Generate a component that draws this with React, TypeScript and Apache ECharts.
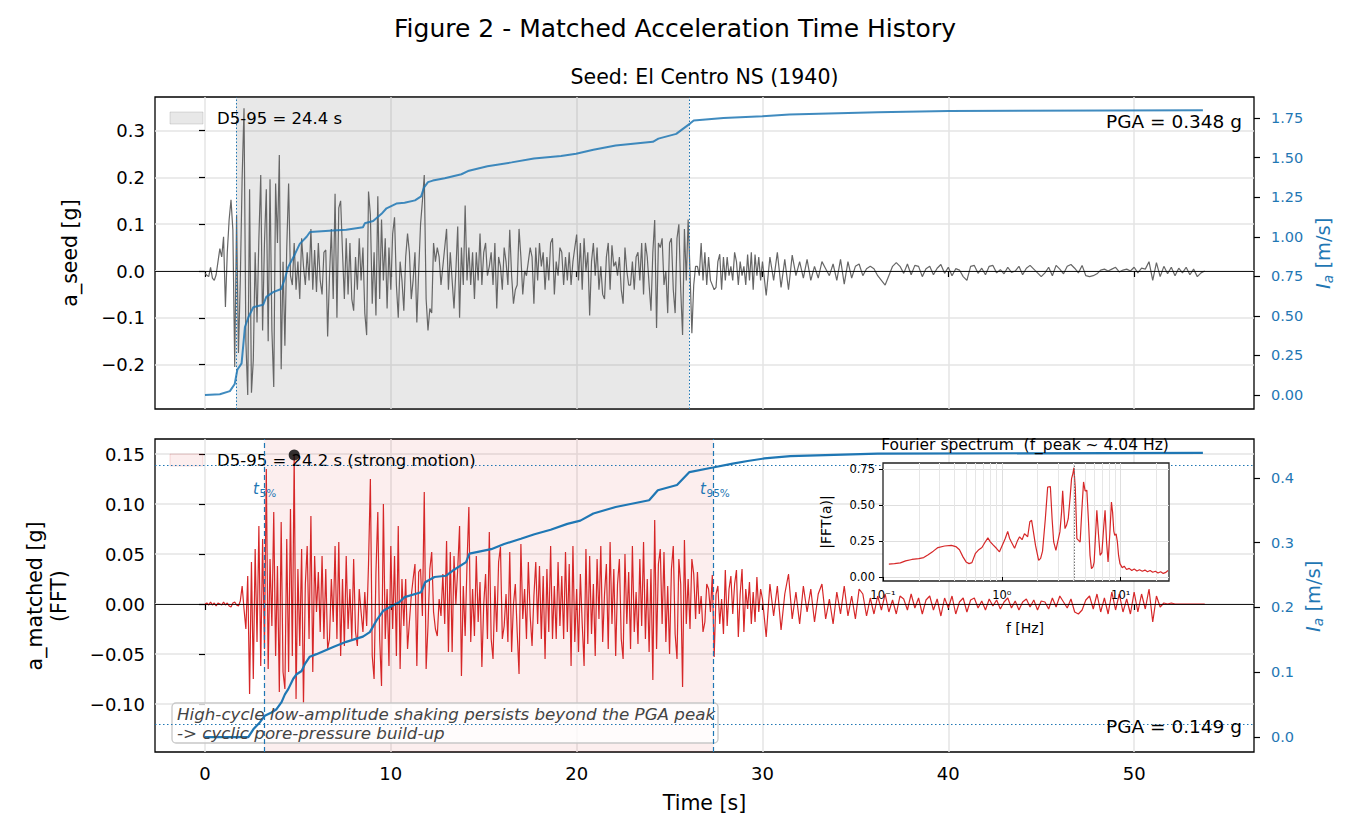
import React, { useEffect, useRef } from "react";
import * as echarts from "echarts";

const FONT = "DejaVu Sans";
const BLUE = "#1f77b4";
const RED = "#d62728";

// ---- time axis ----
const X_MIN = -2.69;
const X_MAX = 56.45;
const X_TICKS = [0, 10, 20, 30, 40, 50];

// sampling of the digitised records
const STRONG_DT = 0.1; // s, samples at 0.0 .. 29.9 s
const TAIL_T0 = 30.0;
const TAIL_DT = 0.2; // s, samples at 30.0 .. 53.8 s

// seed record (El Centro NS), milli-g
const seedStrongMilliG = [
  -5, -9, -12, 8, -15, -20, -8, 20, 48, 30,
  73, -77, 40, 110, 152, 88, -205, 120, -175, -20,
  200, 348, -150, -265, 175, -260, -190, 40, -110, 70,
  205, -127, 60, 175, -150, 196, -126, -248, 187, 60,
  248, -210, 20, -160, 50, 187, -10, -30, 60, -40,
  20, -60, 70, 10, -30, 40, -20, 90, -40, 45,
  -45, 60, -20, -50, 40, 45, -140, -10, 90, -60,
  165, -100, 135, 150, 40, -60, 70, -50, 60, -60,
  -85, 30, -40, 70, -20, 50, -90, -137, 170, 120,
  -70, 40, -95, 160, -60, 110, -20, 70, -80, 50,
  -40, 80, 115, -30, -100, 20, -20, -85, 30, 80,
  40, -60, -20, 40, -110, 0, 100, 150, 205, -60,
  -127, -80, -90, 60, 20, 50, 30, -30, 10, 50,
  90, -40, 40, -20, -80, 0, 95, -100, 50, -30,
  140, -20, 50, -30, 40, -60, 40, -20, 80, -30,
  40, 60, -10, 10, 40, -30, 60, -80, 30, 10,
  -40, 50, 20, -30, 88, -10, -70, -40, -30, 90,
  30, -50, 0, -10, 20, 50, 30, -70, 50, -20,
  60, 10, 40, -40, 30, -20, 60, 70, -50, 20,
  -10, 50, 40, -30, 30, -20, 40, -30, 20, 50,
  78, -20, 60, -40, 70, 0, 40, -95, 20, 60,
  -10, 50, -40, 10, -50, -60, 30, 60, -40, 55,
  10, 20, -10, 30, -40, -70, 50, 0, -30, -30,
  20, -40, 30, 40, -20, 60, -50, 60, 30, -30,
  -85, 40, 109, -122, 60, 50, 70, -30, 0, -90,
  60, 70, -40, -90, 70, 100, -40, -137, 90, -20,
  110, 0, -133, -30, 10, 10, -10, 60, -20, 40,
  -30, 30, -20, -30, -40, -35, 20, 36, -40, 30,
  -20, 30, -10, 10, -20, 40, 20, -30, 20, -10,
  10, -30, 35, -20, 40, -40, 35, -10, 30, -20,
];
const seedTailMilliG = [
  20, -52, 30, -20, 40, -35, 25, -40, 34, -10,
  20, -15, 25, -20, 10, -15, 20, 5, -10, 15,
  -20, 25, -28, 20, -15, 10, 15, -10, 5, 10,
  5, -10, -20, -30, -10, 10, 18, 10, -5, 15,
  -8, 12, 10, -12, 5, 10, -8, 6, 14, -5,
  8, -10, 5, 2, -12, -20, 10, 12, -5, 6,
  -8, 10, 12, -4, 3, -6, 8, -3, 0, 10,
  -8, 6, 12, 4, -4, -12, -4, 8, -10, 12,
  4, -6, 10, 14, 6, -4, 12, -10, -12, -10,
  -6, 2, 4, 0, 4, 8, -2, 2, 4, 0,
  8, -4, 6, 4, 20, -20, 18, -12, 10, -6,
  8, -10, 6, -4, 8, -8, 4, -12, -4, 0,
];

// spectrum-matched record, milli-g
const matchedStrongMilliG = [
  0, 1, -1, 2, -1, 1, -2, 1, 0, -1,
  2, -1, 1, -2, -3, 1, 2, -1, -2, 3,
  18, -5, -25, 28, -90, 42, -75, 55, -38, 78,
  -62, 65, -45, 135, -65, 45, -22, 92, -52, 38,
  -88, 82, -68, -85, 65, -68, 95, -52, 149, -95,
  35, -42, 55, -100, 20, 58, -35, 88, -68, 48,
  -8, 32, -28, 48, -35, 35, -45, -35, 25, -18,
  58, -35, 62, -52, 25, -42, 48, -25, 15, -35,
  45, -28, -42, 15, -8, -28, 12, -22, 40, 125,
  -52, -75, 32, 92, -35, -82, 100, -35, 15, -62,
  58, -25, 48, -52, 78, -65, 25, -22, 25, -45,
  -18, 8, 25, 40, -62, 32, 35, -12, 112, -65,
  -22, 35, 52, -8, -25, -32, 5, -12, 30, -20,
  63, -48, 52, -48, 48, 0, 35, 78, -72, 18,
  -32, 40, 97, -38, 15, -32, 48, -18, 22, -63,
  0, 30, -35, 72, -35, -55, 18, -28, 42, 57,
  -35, -22, 10, -38, 52, -48, 0, 20, -28, -70,
  60, -15, 15, -35, 42, -12, -42, 8, 42, -20,
  38, -35, 28, -55, 35, -28, 58, -35, 18, -35,
  42, -22, 28, -35, 52, -28, 40, -62, 58, -38,
  15, -48, 30, -20, -62, 55, -40, 48, -30, 20,
  -52, 45, -15, 58, -38, 10, 40, -45, 62, -20,
  35, -52, 20, 45, -35, -55, 50, -20, 32, -45,
  58, -28, 12, -40, 45, -22, 62, -35, 25, -48,
  35, -76, 84, -45, 40, 55, -20, 52, -38, 18,
  -50, 35, 58, -30, -55, 45, 20, -83, 64, -20,
  25, -25, 45, 30, -15, 32, -10, 8, -28, -18,
  20, 15, -8, 29, -53, 10, 18, -20, 5, -30,
  34, -22, 15, 28, -10, 20, 34, -33, 10, 35,
  -28, 15, -5, 22, -20, 12, -18, 27, -8, 15,
];
const matchedTailMilliG = [
  5, -33, 20, -12, 18, -26, 10, 30, -15, 12,
  -20, 18, -8, 15, -18, 10, 20, -15, 5, -20,
  12, -10, 18, -12, 8, -15, 15, 10, -12, 6,
  -10, 8, -6, 10, -8, 4, -10, 8, 5, -6,
  10, -4, 6, -10, 4, 8, -6, 5, -12, 6,
  -4, 8, -10, 2, 6, -8, 4, 6, -4, 3,
  -6, 5, -2, 4, -5, 2, 6, -4, 3, -6,
  2, 5, -3, 4, -6, 3, 2, -5, 6, -3,
  8, 2, -4, 5, -8, -10, -6, 4, 8, -5,
  10, -8, 6, -10, 12, -6, 10, -8, 5, -10,
  12, -8, 10, -5, 15, -18, 8, -3, 1, 0,
  1, 0, 0, 0, 0, 0, 0, 0, 0, 0,
];

// Arias intensity (m/s)
const seedAriasTime = [
  0, 0.8, 1.34, 1.6, 1.74, 1.97, 2.15, 2.33, 2.6, 3.13,
  3.3, 3.67, 4.1, 4.3, 4.48, 4.84, 5.1, 5.47, 5.65, 6.9,
  7.6, 8.5, 8.6, 9.05, 9.5, 9.77, 10.3, 10.74, 11.3, 11.63,
  11.78, 12.0, 12.26, 12.9, 13.8, 14.15, 15.2, 16.5, 17.7, 19.16,
  19.97, 20.9, 22.1, 24.1, 24.4, 25.36, 25.7, 26.1, 26.3, 27.9,
  30.0, 31.45, 36.2, 40.0, 53.7,
];
const seedAriasValue = [
  0.0, 0.005, 0.025, 0.07, 0.16, 0.2, 0.43, 0.49, 0.555, 0.57,
  0.62, 0.65, 0.67, 0.735, 0.81, 0.89, 0.955, 1.0, 1.03, 1.04,
  1.045, 1.06, 1.085, 1.1, 1.145, 1.18, 1.21, 1.215, 1.23, 1.255,
  1.31, 1.345, 1.355, 1.37, 1.395, 1.415, 1.445, 1.47, 1.495, 1.51,
  1.525, 1.55, 1.577, 1.6, 1.62, 1.65, 1.68, 1.715, 1.735, 1.75,
  1.762, 1.773, 1.786, 1.794, 1.8,
];
const matchedAriasTime = [
  0, 2.33, 2.6, 2.96, 3.22, 3.58, 3.85, 4.12, 4.3, 4.48,
  4.75, 4.93, 5.2, 5.38, 5.64, 6.0, 6.9, 7.6, 8.5, 8.87,
  9.23, 9.6, 10.1, 10.45, 10.74, 11.63, 11.85, 12.35, 12.98, 13.34,
  14.05, 14.23, 15.4, 16.1, 17.0, 17.73, 18.6, 19.5, 20.2, 20.9,
  22.1, 23.9, 24.37, 25.4, 26.07, 27.33, 28.4, 29.2, 30.1, 31.5,
  36.2, 53.7,
];
const matchedAriasValue = [
  0, 0.0, 0.012, 0.023, 0.033, 0.038, 0.043, 0.054, 0.066, 0.074,
  0.09, 0.097, 0.102, 0.113, 0.124, 0.128, 0.139, 0.147, 0.155, 0.162,
  0.18, 0.195, 0.203, 0.208, 0.216, 0.2235, 0.239, 0.247, 0.249, 0.257,
  0.27, 0.283, 0.29, 0.298, 0.306, 0.313, 0.32, 0.329, 0.334, 0.345,
  0.355, 0.3655, 0.381, 0.389, 0.409, 0.416, 0.422, 0.426, 0.43, 0.4335,
  0.4375, 0.4386,
];

// Fourier amplitude of the matched record
const fftFreqHz = [
  0.112, 0.125, 0.14, 0.155, 0.175, 0.2, 0.22, 0.24, 0.265, 0.29,
  0.33, 0.376, 0.41, 0.44, 0.471, 0.5, 0.53, 0.56, 0.6, 0.64,
  0.68, 0.72, 0.763, 0.8, 0.84, 0.9, 0.955, 1.02, 1.07, 1.12,
  1.16, 1.2, 1.28, 1.35, 1.41, 1.48, 1.55, 1.65, 1.72, 1.78,
  1.84, 1.92, 2.04, 2.12, 2.2, 2.32, 2.43, 2.56, 2.65, 2.73,
  2.85, 2.98, 3.08, 3.18, 3.25, 3.33, 3.4, 3.5, 3.62, 3.75,
  3.86, 3.96, 4.04, 4.15, 4.28, 4.42, 4.56, 4.7, 4.87, 5.02,
  5.19, 5.35, 5.52, 5.68, 5.85, 5.98, 6.15, 6.3, 6.5, 6.71,
  6.95, 7.2, 7.39, 7.6, 7.83, 8.1, 8.36, 8.55, 8.75, 8.91,
  9.15, 9.38, 9.6, 9.86, 10.3, 10.7, 11.2, 11.8, 12.4, 13.0,
  13.7, 14.4, 15.2, 16.0, 16.8, 17.7, 18.6, 19.6, 20.6, 21.7,
  22.8, 24.0, 25.0,
];
const fftAmp = [
  0.09, 0.093, 0.098, 0.112, 0.122, 0.128, 0.135, 0.155, 0.18, 0.205,
  0.216, 0.22, 0.212, 0.19, 0.14, 0.105, 0.093, 0.1, 0.165, 0.19,
  0.205, 0.24, 0.272, 0.245, 0.225, 0.2, 0.175, 0.23, 0.27, 0.318,
  0.27, 0.245, 0.2, 0.25, 0.28, 0.26, 0.302, 0.28, 0.385, 0.395,
  0.32, 0.22, 0.116, 0.13, 0.18, 0.4, 0.627, 0.63, 0.4, 0.244,
  0.186, 0.26, 0.314, 0.45, 0.6, 0.45, 0.337, 0.36, 0.406, 0.55,
  0.685, 0.72, 0.76, 0.62, 0.267, 0.255, 0.244, 0.45, 0.662, 0.6,
  0.604, 0.4, 0.15, 0.058, 0.07, 0.104, 0.3, 0.464, 0.3, 0.151,
  0.17, 0.35, 0.464, 0.25, 0.104, 0.3, 0.522, 0.45, 0.32, 0.29,
  0.3, 0.244, 0.15, 0.093, 0.065, 0.075, 0.052, 0.06, 0.045, 0.055,
  0.042, 0.05, 0.04, 0.048, 0.036, 0.045, 0.033, 0.04, 0.028, 0.036,
  0.025, 0.032, 0.045,
];

// summary values
const SEED_T5 = 1.67;
const SEED_T95 = 26.07;
const SEED_D595 = 24.4;
const SEED_PGA = 0.348;
const MATCH_T5 = 3.17;
const MATCH_T95 = 27.37;
const MATCH_D595 = 24.2;
const MATCH_PGA = 0.149;
const MATCH_PGA_T = 4.8;
const MATCH_IA5 = 0.0219;
const MATCH_IA95 = 0.4167;
const F_PEAK = 4.04;

// tick labels
const seedTicks = [-0.2, -0.1, 0, 0.1, 0.2, 0.3];
const seedAriasTicks = [0, 0.25, 0.5, 0.75, 1.0, 1.25, 1.5, 1.75];
const matchedTicks = [-0.1, -0.05, 0, 0.05, 0.1, 0.15];
const matchedAriasTicks = [0, 0.1, 0.2, 0.3, 0.4];
const fftTicks = [0, 0.25, 0.5, 0.75];
const fftMinorGrid = [0.2, 0.3, 0.4, 0.5, 0.6, 0.7, 0.8, 0.9, 2, 3, 4, 5, 6, 7, 8, 9, 20];

function timeHistory(strong: number[], tail: number[]): number[][] {
  const out: number[][] = [];
  strong.forEach((v, i) => out.push([+(i * STRONG_DT).toFixed(2), v / 1000]));
  tail.forEach((v, i) => out.push([+(TAIL_T0 + i * TAIL_DT).toFixed(2), v / 1000]));
  return out;
}
function pairs(xs: number[], ys: number[]): number[][] {
  const n = Math.min(xs.length, ys.length);
  const out: number[][] = [];
  for (let i = 0; i < n; i++) out.push([xs[i], ys[i]]);
  return out;
}
const fmt = (d: number) => (v: number) => (v < -1e-9 ? "\u2212" : "") + Math.abs(v).toFixed(d);
const supMap: Record<string, string> = { "-": "\u207b", "0": "\u2070", "1": "\u00b9", "2": "\u00b2", "3": "\u00b3" };
const logFmt = (v: number) => {
  const e = Math.log10(v);
  const r = Math.round(e);
  if (Math.abs(e - r) > 1e-6) return "";
  return "10" + String(r).split("").map((c) => supMap[c] || c).join("");
};

const GRID_LINE = { show: true, lineStyle: { color: "#e4e4e4", width: 1.5 } };
const TICK = (vals: number[] | null, len = 6, color = "#000") => ({
  show: true,
  length: len,
  ...(vals ? { customValues: vals } : {}),
  lineStyle: { color, width: 1.2 },
});

function text(x: number, y: number, t: string, size: number, extra: any = {}, z = 10) {
  const align = extra.align || "center";
  return {
    type: "text",
    x,
    y,
    z,
    style: {
      text: t,
      fontSize: size,
      fontFamily: FONT,
      fill: "#000",
      align,
      textAlign: align,
      verticalAlign: "middle",
      textVerticalAlign: "middle",
      ...extra,
    },
  };
}

function buildOption(): any {
  const seedData = timeHistory(seedStrongMilliG, seedTailMilliG);
  const matchedData = timeHistory(matchedStrongMilliG, matchedTailMilliG);
  const seedArias = pairs(seedAriasTime, seedAriasValue);
  const matchedArias = pairs(matchedAriasTime, matchedAriasValue);
  const fftData = pairs(fftFreqHz, fftAmp);
  const noLabel = { show: false };

  const blueI = (x: number, y: number) => ({
    type: "group",
    x,
    y,
    rotation: Math.PI / 2,
    children: [
      { type: "text", x: -36, y: 0, z: 10, style: { text: "I", fontSize: 19.5, fontStyle: "italic", fontFamily: FONT, fill: BLUE, align: "left", textAlign: "left", verticalAlign: "middle", textVerticalAlign: "middle" } },
      { type: "text", x: -30.2, y: 5, z: 10, style: { text: "a", fontSize: 13.6, fontStyle: "italic", fontFamily: FONT, fill: BLUE, align: "left", textAlign: "left", verticalAlign: "middle", textVerticalAlign: "middle" } },
      { type: "text", x: -21.8, y: 0, z: 10, style: { text: " [m/s]", fontSize: 19.5, fontFamily: FONT, fill: BLUE, align: "left", textAlign: "left", verticalAlign: "middle", textVerticalAlign: "middle" } },
    ],
  });

  return {
    animation: false,
    backgroundColor: "#ffffff",
    textStyle: { fontFamily: FONT },
    grid: [
      { left: 155, top: 97, width: 1099, height: 312, show: true, borderColor: "#000", borderWidth: 1.3, backgroundColor: "transparent" },
      { left: 155, top: 439, width: 1099, height: 313, show: true, borderColor: "#000", borderWidth: 1.3, backgroundColor: "transparent" },
      { left: 883, top: 463, width: 286, height: 118, show: true, borderColor: "#222", borderWidth: 1.3, backgroundColor: "#ffffff", z: 6 },
    ],
    xAxis: [
      {
        gridIndex: 0, type: "value", min: X_MIN, max: X_MAX,
        axisLine: { show: false },
        axisTick: TICK(X_TICKS),
        axisLabel: { show: false, customValues: X_TICKS },
        splitLine: GRID_LINE,
      },
      {
        gridIndex: 1, type: "value", min: X_MIN, max: X_MAX,
        axisLine: { show: false },
        axisTick: TICK(X_TICKS),
        axisLabel: { show: true, customValues: X_TICKS, fontSize: 18, fontFamily: FONT, color: "#000", margin: 12 },
        splitLine: GRID_LINE,
      },
      {
        gridIndex: 2, type: "log", logBase: 10, min: 0.1, max: 25.5, z: 7,
        axisLine: { show: false },
        axisTick: { show: true, length: 4, lineStyle: { color: "#000", width: 1 } },
        axisLabel: { show: true, formatter: logFmt, fontSize: 11.5, fontFamily: FONT, color: "#000", margin: 8, showMaxLabel: false },
        splitLine: { show: true, showMinLine: false, showMaxLine: false, lineStyle: { color: "#dedede", width: 1 } },
      },
    ],
    yAxis: [
      {
        gridIndex: 0, type: "value", position: "left", min: -0.295, max: 0.372,
        axisLine: { show: false },
        axisTick: TICK(seedTicks),
        axisLabel: { customValues: seedTicks, formatter: fmt(1), fontSize: 18, fontFamily: FONT, color: "#000", margin: 10 },
        splitLine: GRID_LINE,
      },
      {
        gridIndex: 0, type: "value", position: "right", min: -0.088, max: 1.883,
        axisLine: { show: false },
        axisTick: TICK(seedAriasTicks),
        axisLabel: { customValues: seedAriasTicks, formatter: fmt(2), fontSize: 14.5, fontFamily: FONT, color: BLUE, margin: 17 },
        splitLine: { show: false },
      },
      {
        gridIndex: 1, type: "value", position: "left", min: -0.148, max: 0.165,
        axisLine: { show: false },
        axisTick: TICK(matchedTicks),
        axisLabel: { customValues: matchedTicks, formatter: fmt(2), fontSize: 18, fontFamily: FONT, color: "#000", margin: 10 },
        splitLine: GRID_LINE,
      },
      {
        gridIndex: 1, type: "value", position: "right", min: -0.023, max: 0.46,
        axisLine: { show: false },
        axisTick: TICK(matchedAriasTicks),
        axisLabel: { customValues: matchedAriasTicks, formatter: fmt(1), fontSize: 14.5, fontFamily: FONT, color: BLUE, margin: 17 },
        splitLine: { show: false },
      },
      {
        gridIndex: 2, type: "value", position: "left", min: -0.028, max: 0.794, z: 7,
        axisLine: { show: false },
        axisTick: { show: true, length: 4, customValues: fftTicks, lineStyle: { color: "#000", width: 1 } },
        axisLabel: { customValues: fftTicks, formatter: fmt(2), fontSize: 11.5, fontFamily: FONT, color: "#000", margin: 8 },
        splitLine: { show: true, lineStyle: { color: "#dedede", width: 1 } },
      },
    ],
    series: [
      {
        name: "seed", type: "line", xAxisIndex: 0, yAxisIndex: 0, data: seedData,
        showSymbol: false, symbol: "none", z: 2,
        lineStyle: { color: "#666666", width: 1.2 },
        markArea: { silent: true, itemStyle: { color: "rgba(128,128,128,0.18)" }, data: [[{ xAxis: SEED_T5 }, { xAxis: SEED_T95 }]] },
        markLine: {
          silent: true, symbol: ["none", "none"], label: noLabel,
          data: [
            { yAxis: 0, lineStyle: { color: "#000", width: 0.9, type: "solid" } },
            { xAxis: SEED_T5, lineStyle: { color: BLUE, width: 1, type: [1.5, 2] } },
            { xAxis: SEED_T95, lineStyle: { color: BLUE, width: 1, type: [1.5, 2] } },
          ],
        },
      },
      {
        name: "seedArias", type: "line", xAxisIndex: 0, yAxisIndex: 1, data: seedArias,
        showSymbol: false, symbol: "none", z: 4,
        lineStyle: { color: "rgba(31,119,180,0.85)", width: 2 },
      },
      {
        name: "matched", type: "line", xAxisIndex: 1, yAxisIndex: 2, data: matchedData,
        showSymbol: false, symbol: "none", z: 2,
        lineStyle: { color: RED, width: 1.2 },
        markArea: { silent: true, itemStyle: { color: "rgba(214,39,40,0.08)" }, data: [[{ xAxis: MATCH_T5 }, { xAxis: MATCH_T95 }]] },
        markLine: {
          silent: true, symbol: ["none", "none"], label: noLabel,
          data: [
            { yAxis: 0, lineStyle: { color: "#000", width: 0.9, type: "solid" } },
            { xAxis: MATCH_T5, lineStyle: { color: BLUE, width: 1.2, type: [5, 3] } },
            { xAxis: MATCH_T95, lineStyle: { color: BLUE, width: 1.2, type: [5, 3] } },
          ],
        },
      },
      {
        name: "pga", type: "scatter", xAxisIndex: 1, yAxisIndex: 2,
        data: [[MATCH_PGA_T, MATCH_PGA]], symbolSize: 11, z: 6,
        itemStyle: { color: "#000" },
      },
      {
        name: "matchedArias", type: "line", xAxisIndex: 1, yAxisIndex: 3, data: matchedArias,
        showSymbol: false, symbol: "none", z: 4,
        lineStyle: { color: BLUE, width: 2.2 },
        markLine: {
          silent: true, symbol: ["none", "none"], label: noLabel,
          lineStyle: { color: BLUE, width: 1, type: [1.5, 2.5] },
          data: [{ yAxis: MATCH_IA5 }, { yAxis: MATCH_IA95 }],
        },
      },
      {
        name: "fftGrid", type: "line", xAxisIndex: 2, yAxisIndex: 4, data: fftData,
        showSymbol: false, symbol: "none", z: 7,
        lineStyle: { opacity: 0 },
        markLine: {
          z: 7, silent: true, symbol: ["none", "none"], label: noLabel,
          lineStyle: { color: "#e6e6e6", width: 1, type: "solid" },
          data: fftMinorGrid.map((f) => ({ xAxis: f })),
        },
      },
      {
        name: "fft", type: "line", xAxisIndex: 2, yAxisIndex: 4, data: fftData,
        showSymbol: false, symbol: "none", z: 8,
        lineStyle: { color: RED, width: 1.2 },
        markLine: {
          z: 9, silent: true, symbol: ["none", "none"], label: noLabel,
          data: [{ xAxis: F_PEAK, lineStyle: { color: "#777", width: 1, type: [1.5, 1.5] } }],
        },
      },
    ],
    graphic: {
      elements: [
        text(675, 28, "Figure 2 - Matched Acceleration Time History", 25),
        text(704.5, 77, "Seed: El Centro NS (1940)", 20.5),
        { ...text(70, 253, "a_seed [g]", 20.5), rotation: Math.PI / 2 },
        { ...text(46.5, 596, "a_matched [g]\n(FFT)", 20.5, { lineHeight: 24 }), rotation: Math.PI / 2 },
        text(704.5, 803, "Time [s]", 20.5),
        blueI(1323, 253),
        blueI(1313, 596),
        // legends
        { type: "rect", z: 10, shape: { x: 170, y: 112, width: 33, height: 12 }, style: { fill: "rgba(128,128,128,0.18)", stroke: "rgba(128,128,128,0.25)", lineWidth: 1 } },
        text(217, 118, `D5-95 = ${SEED_D595.toFixed(1)} s`, 16.5, { align: "left" }),
        { type: "rect", z: 5, shape: { x: 170, y: 454, width: 33, height: 12 }, style: { fill: "rgba(214,39,40,0.08)", stroke: "rgba(214,39,40,0.15)", lineWidth: 1 } },
        text(217, 460, `D5-95 = ${MATCH_D595.toFixed(1)} s (strong motion)`, 16.5, { align: "left" }, 5),
        // PGA labels
        text(1242, 121, `PGA = ${SEED_PGA.toFixed(3)} g`, 18.5, { align: "right" }),
        text(1242, 726, `PGA = ${MATCH_PGA.toFixed(3)} g`, 18.5, { align: "right" }),
        // t5 / t95
        text(253, 489, "t", 15, { align: "left", fontStyle: "italic", fill: BLUE }),
        text(259.5, 493, "5%", 10.5, { align: "left", fill: BLUE }),
        text(700, 489, "t", 15, { align: "left", fontStyle: "italic", fill: BLUE }),
        text(706.5, 493, "95%", 10.5, { align: "left", fill: BLUE }),
        // annotation
        { type: "rect", z: 3, shape: { x: 172, y: 703, width: 546, height: 40, r: 4 }, style: { fill: "rgba(255,255,255,0.8)", stroke: "#c8c8c8", lineWidth: 1.3 } },
        text(177, 714, "High-cycle low-amplitude shaking persists beyond the PGA peak", 16.7, { align: "left", fontStyle: "italic", fill: "#444" }, 5),
        text(177, 732.5, "-> cyclic pore-pressure build-up", 16.7, { align: "left", fontStyle: "italic", fill: "#444" }, 5),
        // inset texts
        text(1025, 445, `Fourier spectrum  (f_peak ~ ${F_PEAK.toFixed(2)} Hz)`, 15.5),
        text(1025, 628, "f [Hz]", 14),
        { ...text(826, 522, "|FFT(a)|", 14), rotation: Math.PI / 2 },
      ],
    },
  };
}

export default function App() {
  const ref = useRef<HTMLDivElement>(null);
  useEffect(() => {
    if (!ref.current) return;
    const chart = echarts.init(ref.current, null, { renderer: "svg" });
    chart.setOption(buildOption());
    return () => chart.dispose();
  }, []);
  return (
    <div
      ref={ref}
      style={{ position: "absolute", left: 0, top: 0, width: 1350, height: 840, background: "#fff" }}
    />
  );
}
